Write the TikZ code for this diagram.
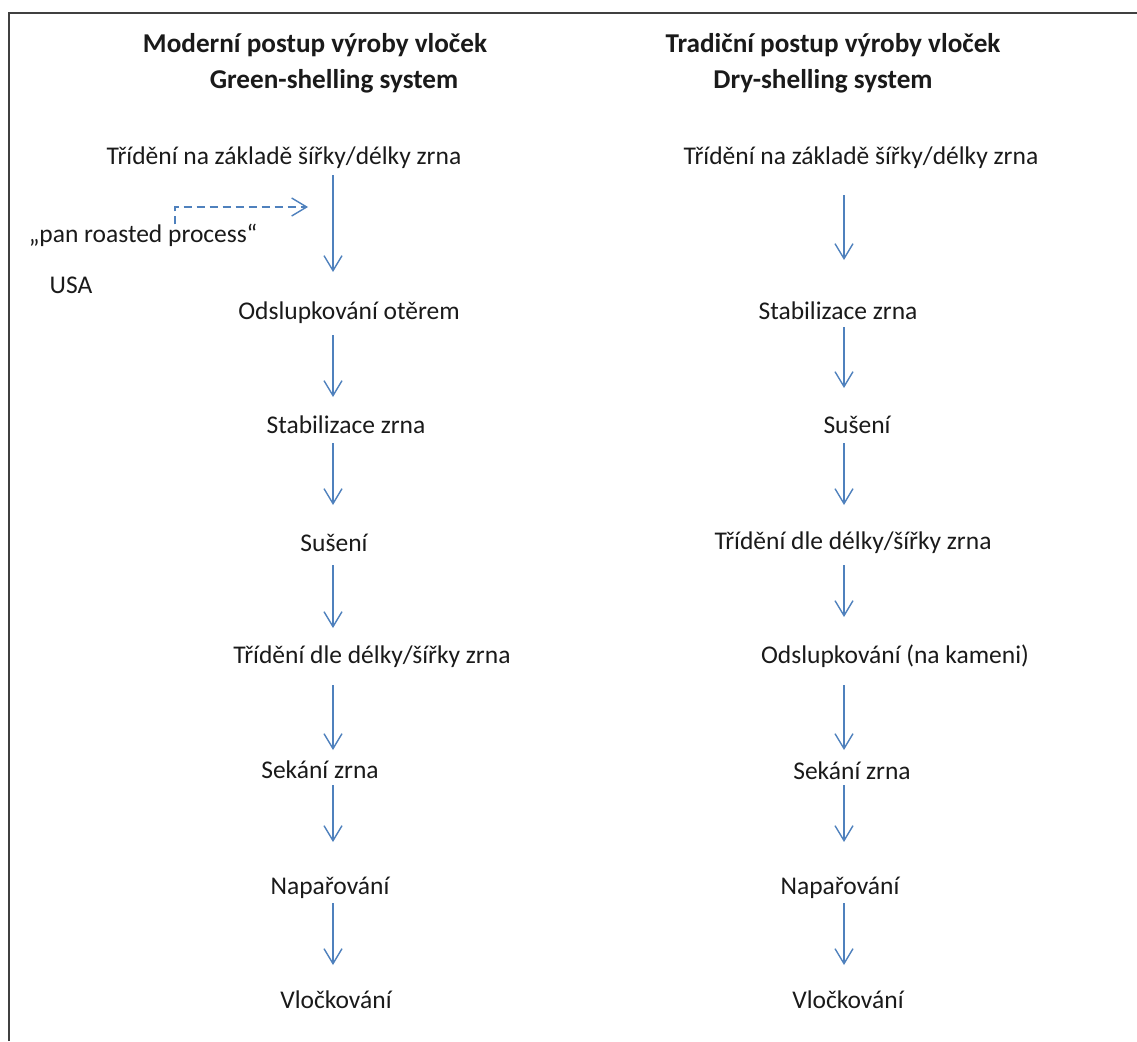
\documentclass[tikz,border=0pt]{standalone}
\usepackage{fontspec}
\setmainfont{Carlito}
\usetikzlibrary{arrows.meta,calc}
\definecolor{flowblue}{HTML}{4F81BD}
\definecolor{framegray}{HTML}{404040}
\definecolor{txt}{HTML}{1A1A1A}
\tikzset{
  lbl/.style={inner sep=0pt, text height=18pt, text depth=5pt, text=txt,
    font=\fontsize{25.5}{30}\selectfont},
  ttl/.style={lbl, font=\fontsize{27.2}{32}\selectfont\bfseries},
  arr/.style={draw=flowblue, line width=1.4pt,
    -{Straight Barb[length=15pt,width=18pt,line width=1.4pt]}},
  dasharr/.style={arr, dash pattern=on 8pt off 5pt},
  frameline/.style={draw=framegray, line width=2.4pt}
}
\begin{document}
\begin{tikzpicture}[x=1pt,y=-1pt]
\useasboundingbox (0,0) rectangle (1137,1041);
\fill[white] (0,0) rectangle (1137,1041);
\draw[frameline] (9,1041) -- (9,13) -- (1137,13);

% titles
\node[ttl] (t1a) at (315,46) {Moderní postup výroby vloček};
\node[ttl] (t1b) at (334,82) {Green-shelling system};
\node[ttl] (t2a) at (833,46) {Tradiční postup výroby vloček};
\node[ttl] (t2b) at (823,82) {Dry-shelling system};

% column x positions for arrows
\coordinate (lx) at (333,0);
\coordinate (rx) at (844,0);

% left column
\node[lbl] (L1) at (284,158) {Třídění na základě šířky/délky zrna};
\node[lbl] (L2) at (349,313) {Odslupkování otěrem};
\node[lbl] (L3) at (346,427) {Stabilizace zrna};
\node[lbl] (L4) at (334,545) {Sušení};
\node[lbl] (L5) at (372,657) {Třídění dle délky/šířky zrna};
\node[lbl] (L6) at (320,772) {Sekání zrna};
\node[lbl] (L7) at (330,888) {Napařování};
\node[lbl] (L8) at (336,1002) {Vločkování};

% side notes
\node[lbl] (pan) at (143,236) {„pan roasted process“};
\node[lbl] (usa) at (71,287) {USA};
\coordinate (panend) at (308,207);
\draw[dasharr] ([xshift=32pt]pan.north) |- (panend);

% right column
\node[lbl] (R1) at (861,158) {Třídění na základě šířky/délky zrna};
\node[lbl] (R2) at (838,313) {Stabilizace zrna};
\node[lbl] (R3) at (857,427) {Sušení};
\node[lbl] (R4) at (853,543) {Třídění dle délky/šířky zrna};
\node[lbl] (R5) at (895,657) {Odslupkování (na kameni)};
\node[lbl] (R6) at (852,773) {Sekání zrna};
\node[lbl] (R7) at (840,888) {Napařování};
\node[lbl] (R8) at (848,1002) {Vločkování};

% left arrows
\draw[arr] ($(L1.center -| lx)+(0,17)$) -- ($(L2.center -| lx)+(0,-41)$);
\draw[arr] ($(L2.center -| lx)+(0,22)$) -- ($(L3.center -| lx)+(0,-30)$);
\draw[arr] ($(L3.center -| lx)+(0,16)$) -- ($(L4.center -| lx)+(0,-40)$);
\draw[arr] ($(L4.center -| lx)+(0,20)$) -- ($(L5.center -| lx)+(0,-29)$);
\draw[arr] ($(L5.center -| lx)+(0,28)$) -- ($(L6.center -| lx)+(0,-22)$);
\draw[arr] ($(L6.center -| lx)+(0,13)$) -- ($(L7.center -| lx)+(0,-46)$);
\draw[arr] ($(L7.center -| lx)+(0,15)$) -- ($(L8.center -| lx)+(0,-37)$);

% right arrows
\draw[arr] ($(R1.center -| rx)+(0,37)$) -- ($(R2.center -| rx)+(0,-53)$);
\draw[arr] ($(R2.center -| rx)+(0,14)$) -- ($(R3.center -| rx)+(0,-39)$);
\draw[arr] ($(R3.center -| rx)+(0,16)$) -- ($(R4.center -| rx)+(0,-38)$);
\draw[arr] ($(R4.center -| rx)+(0,22)$) -- ($(R5.center -| rx)+(0,-40)$);
\draw[arr] ($(R5.center -| rx)+(0,28)$) -- ($(R6.center -| rx)+(0,-23)$);
\draw[arr] ($(R6.center -| rx)+(0,12)$) -- ($(R7.center -| rx)+(0,-46)$);
\draw[arr] ($(R7.center -| rx)+(0,15)$) -- ($(R8.center -| rx)+(0,-37)$);
\end{tikzpicture}
\end{document}
